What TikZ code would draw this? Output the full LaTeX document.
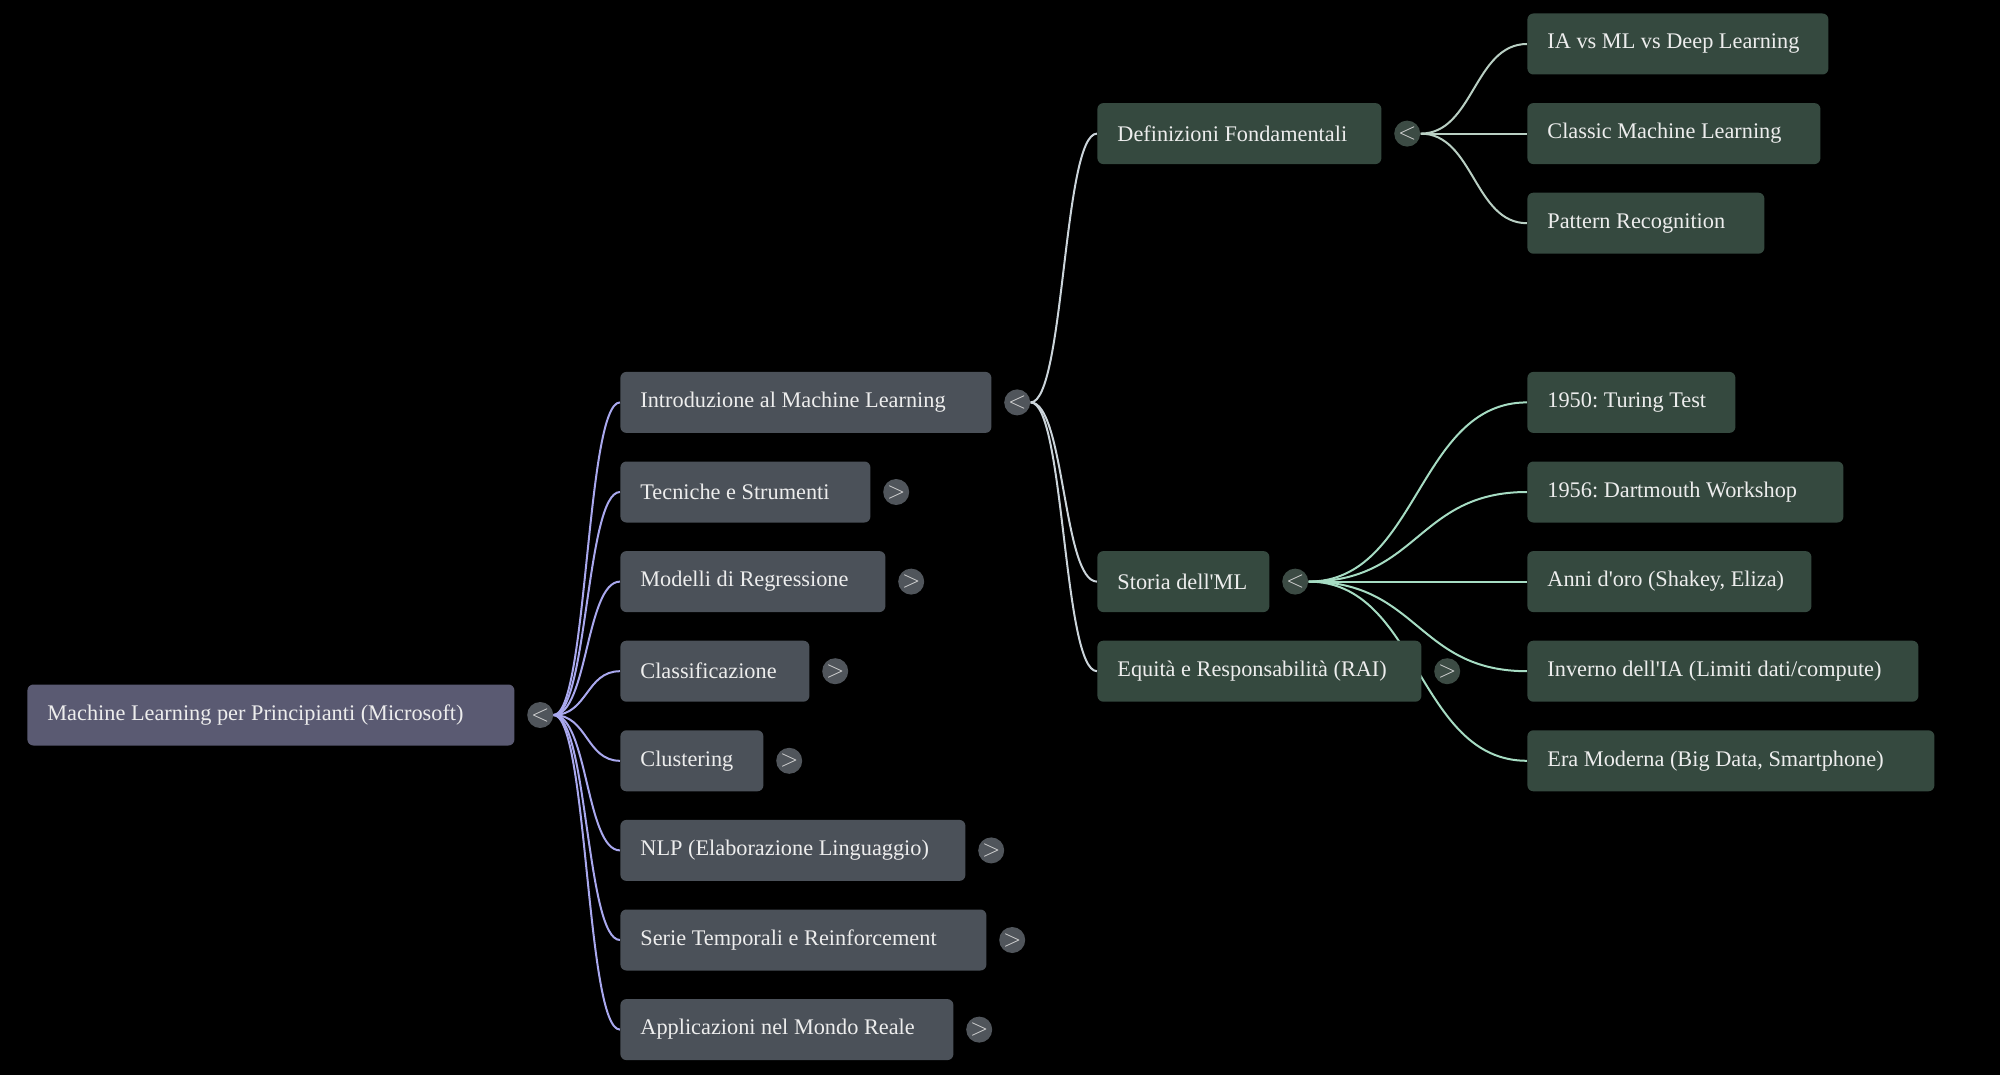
\documentclass[tikz,border=0pt]{standalone}
\usepackage{fontspec}
\setmainfont{Liberation Serif}
\usetikzlibrary{positioning}
\definecolor{txt}{HTML}{EDEDED}
\definecolor{rootc}{HTML}{5A5A72}
\definecolor{grayc}{HTML}{4B5159}
\definecolor{greenc}{HTML}{35493F}
\definecolor{graytogc}{HTML}{50555B}
\definecolor{greentogc}{HTML}{3C4B44}
\definecolor{chev}{HTML}{D8D8D8}
\definecolor{lzero}{HTML}{A9A8EE}
\definecolor{lone}{HTML}{CBD4DA}
\definecolor{ldef}{HTML}{B9CFC3}
\definecolor{lsto}{HTML}{A6DCC3}
\pgfdeclarelayer{canvas}
\pgfdeclarelayer{background}
\pgfsetlayers{canvas,background,main}
\newcommand\lbox[2]{\makebox[\dimexpr(#1pt-40pt)/2\relax][l]{#2}}
\frenchspacing
\begin{document}
\begin{tikzpicture}[x=0.5pt,y=-0.5pt,
  font=\fontsize{11.15}{13}\selectfont\frenchspacing,
  box/.style={rounded corners=3pt, inner xsep=10pt, inner ysep=0pt, minimum height=30.5pt, text=txt, anchor=west},
  bw/.style={minimum width=#1*0.5pt},
  rootbox/.style={box, fill=rootc},
  graybox/.style={box, fill=grayc},
  greenbox/.style={box, fill=greenc},
  tog/.style={circle, inner sep=0pt, minimum size=13pt, text=chev, font=\fontsize{12}{12}\selectfont},
  graytog/.style={tog, fill=graytogc},
  greentog/.style={tog, fill=greentogc},
  link/.style={line width=1pt},
]
\begin{pgfonlayer}{canvas}
\fill[black] (0,0) rectangle (2000,1075);
\end{pgfonlayer}
\useasboundingbox (0,0) rectangle (2000,1075);

% root
\node[rootbox, bw=487] (root) at (27,715) {\lbox{487}{Machine Learning per Principianti (Microsoft)}};
\node[graytog, right=6pt of root] (rootT) {$<$};

% level 1
\node[graybox, bw=371] (intro) at (620,402.4) {\lbox{371}{Introduzione al Machine Learning}};
\node[graytog, right=6pt of intro] (introT) {$<$};
\node[graybox, bw=250] (tec) at (620,492) {\lbox{250}{Tecniche e Strumenti}};
\node[graytog, right=6pt of tec] (tecT) {$>$};
\node[graybox, bw=265] (mod) at (620,581.6) {\lbox{265}{Modelli di Regressione}};
\node[graytog, right=6pt of mod] (modT) {$>$};
\node[graybox, bw=189] (cla) at (620,671.2) {\lbox{189}{Classificazione}};
\node[graytog, right=6pt of cla] (claT) {$>$};
\node[graybox, bw=143] (clu) at (620,760.8) {\lbox{143}{Clustering}};
\node[graytog, right=6pt of clu] (cluT) {$>$};
\node[graybox, bw=345] (nlp) at (620,850.4) {\lbox{345}{NLP (Elaborazione Linguaggio)}};
\node[graytog, right=6pt of nlp] (nlpT) {$>$};
\node[graybox, bw=366] (ser) at (620,940) {\lbox{366}{Serie Temporali e Reinforcement}};
\node[graytog, right=6pt of ser] (serT) {$>$};
\node[graybox, bw=333] (app) at (620,1029.6) {\lbox{333}{Applicazioni nel Mondo Reale}};
\node[graytog, right=6pt of app] (appT) {$>$};

% level 2
\node[greenbox, bw=284] (def) at (1097,133.6) {\lbox{284}{Definizioni Fondamentali}};
\node[greentog, right=6pt of def] (defT) {$<$};
\node[greenbox, bw=172] (sto) at (1097,581.6) {\lbox{172}{Storia dell\textquotesingle ML}};
\node[greentog, right=6pt of sto] (stoT) {$<$};
\node[greenbox, bw=324] (equ) at (1097,671.2) {\lbox{324}{Equità e Responsabilità (RAI)}};
\node[greentog, right=6pt of equ] (equT) {$>$};

% level 3
\node[greenbox, bw=301] (ia) at (1527,44) {\lbox{301}{IA vs ML vs Deep Learning}};
\node[greenbox, bw=293] (cml) at (1527,133.6) {\lbox{293}{Classic Machine Learning}};
\node[greenbox, bw=237] (pat) at (1527,223.2) {\lbox{237}{Pattern Recognition}};
\node[greenbox, bw=208] (tur) at (1527,402.4) {\lbox{208}{1950: Turing Test}};
\node[greenbox, bw=316] (dar) at (1527,492) {\lbox{316}{1956: Dartmouth Workshop}};
\node[greenbox, bw=284] (ann) at (1527,581.6) {\lbox{284}{Anni d\textquotesingle oro (Shakey, Eliza)}};
\node[greenbox, bw=391] (inv) at (1527,671.2) {\lbox{391}{Inverno dell\textquotesingle IA (Limiti dati/compute)}};
\node[greenbox, bw=407] (era) at (1527,760.8) {\lbox{407}{Era Moderna (Big Data, Smartphone)}};

\begin{pgfonlayer}{background}
\foreach \c in {intro,tec,mod,cla,clu,nlp,ser,app}
  \draw[link, lzero] (rootT.east) .. controls +(34,0) and +(-34,0) .. (\c.west);
\foreach \c in {def,sto,equ}
  \draw[link, lone] (introT.east) .. controls +(34,0) and +(-34,0) .. (\c.west);
\foreach \c in {ia,cml,pat}
  \draw[link, ldef] (defT.east) .. controls +(53,0) and +(-53,0) .. (\c.west);
\foreach \c in {tur,dar,ann,inv,era}
  \draw[link, lsto] (stoT.east) .. controls +(110,0) and +(-110,0) .. (\c.west);
\end{pgfonlayer}
\end{tikzpicture}
\end{document}
